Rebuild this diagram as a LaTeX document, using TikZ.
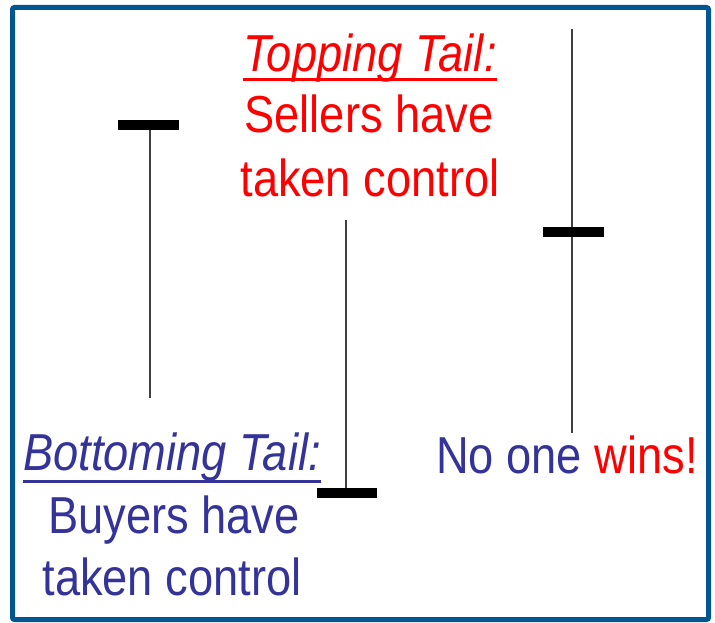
\documentclass[tikz,border=0pt]{standalone}
\usepackage{fontspec}
\newfontfamily\tailfont{Liberation Sans}[FakeStretch=0.87]
\usetikzlibrary{positioning}

\definecolor{frameblue}{RGB}{0,86,145}
\definecolor{buyblue}{RGB}{51,51,153}
\definecolor{sellred}{RGB}{255,0,0}

\begin{document}
\begin{tikzpicture}[x=1bp,y=-1bp,
	tailtext/.style={
	inner sep=0pt,anchor=base,
	font=\tailfont\fontsize{52bp}{62bp}\selectfont
	},tailhead/.style={
	tailtext,font=\tailfont\fontsize{52bp}{62bp}\selectfont\itshape
	},wick/.style={
	line width=2bp,draw=black!75
	},realbody/.style={
	line width=10bp,draw=black
	},underbar/.style={
	line width=3bp
	}
]
\useasboundingbox (0,0) rectangle (715,623);

% frame
\draw[frameblue,line width=5bp,rounded corners=2bp] (12.5,7.5) rectangle (708.5,619.5);

% candle ends
\coordinate (leftTop) at (150,125);
\coordinate (leftLow) at (150,398);
\coordinate (leftBodyW) at (118,125);
\coordinate (leftBodyE) at (179,125);
\coordinate (midTop) at (346,220);
\coordinate (midLow) at (346,492.5);
\coordinate (midBodyW) at (317,492.5);
\coordinate (midBodyE) at (377,492.5);
\coordinate (rightTop) at (572,29);
\coordinate (rightLow) at (572,433);
\coordinate (rightBodyW) at (543,232);
\coordinate (rightBodyE) at (604,232);

\path	(leftTop) edge[wick] (leftLow)
	(midTop) edge[wick] (midLow)
	(rightTop) edge[wick] (rightLow);
\path	(leftBodyW) edge[realbody] (leftBodyE)
	(midBodyW) edge[realbody] (midBodyE)
	(rightBodyW) edge[realbody] (rightBodyE);

% topping tail
\node (topHead) [tailhead,text=sellred] at (370,72) {Topping Tail:};
\node (topLine1) [tailtext,text=sellred] at (369,133) {Sellers have};
\node (topLine2) [tailtext,text=sellred] at (370,197) {taken control};
\draw[underbar,sellred] ([yshift=-8bp]topHead.base west) -- ([yshift=-8bp]topHead.base east);

% bottoming tail
\node (botHead) [tailhead,text=buyblue] at (172,470) {Bottoming Tail:};
\node (botLine1) [tailtext,text=buyblue] at (174,533) {Buyers have};
\node (botLine2) [tailtext,text=buyblue] at (172,595) {taken control};
\draw[underbar,buyblue] ([yshift=-11bp]botHead.base west) -- ([yshift=-11bp]botHead.base east);

% doji
\node (nobody) [tailtext] at (567,473) {\color{buyblue}No one \color{sellred}wins!};

\end{tikzpicture}
\end{document}
